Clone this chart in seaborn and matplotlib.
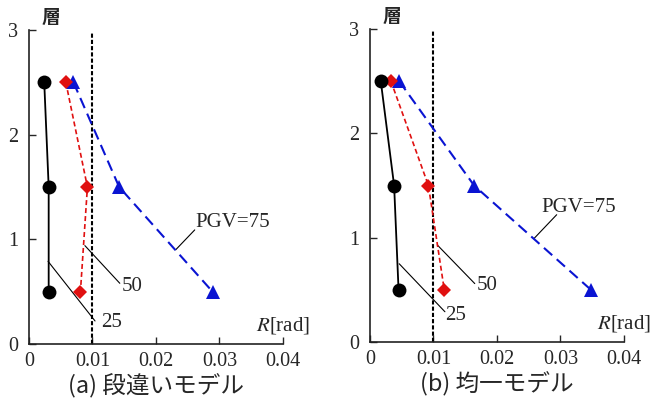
import numpy as np
import pandas as pd
import seaborn as sns
import matplotlib.pyplot as plt

# story height (middle of each floor)
floor = [2.5, 1.5, 0.5]

# (a) stepped model: drift angle R [rad]
a_pgv25 = [0.0024, 0.0031, 0.0031]
a_pgv50 = [0.0058, 0.0092, 0.0081]
a_pgv75 = [0.0070, 0.0142, 0.0289]

# (b) uniform model
b_pgv25 = [0.0017, 0.0038, 0.0045]
b_pgv50 = [0.0033, 0.0092, 0.0117]
b_pgv75 = [0.0046, 0.0164, 0.0348]

x_ticks = [0, 0.01, 0.02, 0.03, 0.04]
x_ticklabels = ['0', '0.01', '0.02', '0.03', '0.04']
y_ticks = [0, 1, 2, 3]
captions = ['(a) 段違いモデル', '(b) 均一モデル']

# leader annotations: label, point on line, end of leader, label position (left, middle)
a_notes = [('PGV=75', (0.0231, 0.90), (0.0261, 1.09), (0.0262, 1.16)),
           ('50', (0.0088, 0.94), (0.0143, 0.58), (0.0146, 0.55)),
           ('25', (0.0030, 0.79), (0.0104, 0.22), (0.0113, 0.21))]
b_notes = [('PGV=75', (0.0258, 0.99), (0.0294, 1.22), (0.0270, 1.29)),
           ('50', (0.0106, 0.93), (0.0165, 0.56), (0.0168, 0.54)),
           ('25', (0.0046, 0.75), (0.0118, 0.29), (0.0118, 0.25))]

sns.set_style("ticks")
serif = 'Liberation Serif'
plt.rcParams['font.family'] = [serif]
plt.rcParams['font.serif'] = [serif]
plt.rcParams['xtick.labelsize'] = 14.5
plt.rcParams['ytick.labelsize'] = 14.5
plt.rcParams['mathtext.fontset'] = 'stix'

fig = plt.figure(figsize=(6.56, 4.07), dpi=100)
ax_a = fig.add_axes([0.0442, 0.1548, 0.3872, 0.7715])
ax_b = fig.add_axes([0.564, 0.1597, 0.3872, 0.769])

panels = [(ax_a, a_pgv25, a_pgv50, a_pgv75, a_notes, captions[0]),
          (ax_b, b_pgv25, b_pgv50, b_pgv75, b_notes, captions[1])]

for ax, p25, p50, p75, notes, cap in panels:
    # limit line R = 1/100
    ax.plot([0.01, 0.01], [0, 2.98], color='black', ls=(0, (2, 1)), lw=1.5, zorder=1)

    df75 = pd.DataFrame({'R': p75, 'floor': floor})
    df50 = pd.DataFrame({'R': p50, 'floor': floor})
    df25 = pd.DataFrame({'R': p25, 'floor': floor})
    sns.lineplot(data=df75, x='R', y='floor', sort=False, estimator=None, ax=ax,
                 color='#0a14d2', lw=1.5, ls=(0, (5.3, 2.9)), marker='^', markersize=10.5,
                 markeredgewidth=0, zorder=3)
    sns.lineplot(data=df50, x='R', y='floor', sort=False, estimator=None, ax=ax,
                 color='#e01010', lw=1.2, ls=(0, (3, 1.8)), marker='D', markersize=7.5,
                 markeredgewidth=0, zorder=4)
    sns.lineplot(data=df25, x='R', y='floor', sort=False, estimator=None, ax=ax,
                 color='black', lw=1.3, marker='o', markersize=10,
                 markeredgewidth=0, zorder=5)

    for label, p, e, t in notes:
        ax.plot([p[0], e[0]], [p[1], e[1]], color='black', lw=0.8, zorder=2)
        ax.text(t[0], t[1], label, fontsize=15, ha='left', va='center',
                family=serif)

    ax.set_xlim(0, 0.04)
    ax.set_ylim(0, 3)
    ax.set_xticks(x_ticks, x_ticklabels)
    ax.set_yticks(y_ticks, [str(v) for v in y_ticks])
    ax.tick_params(direction='in', length=5, width=1, labelsize=14.5,
                   labelfontfamily=serif)
    ax.tick_params(axis='x', pad=6)
    ax.tick_params(axis='y', pad=8)
    ax.set_xlabel('')
    ax.set_ylabel('')
    for s in ['top', 'right']:
        ax.spines[s].set_visible(False)
    for s in ['left', 'bottom']:
        ax.spines[s].set_color('#222222')
        ax.spines[s].set_linewidth(1.2)

    ax.text(1.0, 0.025, r'$R$[rad]', transform=ax.transAxes, fontsize=15,
            ha='center', va='bottom', family=serif, clip_on=False)
    ax.text(0.05, 1.01, '層', transform=ax.transAxes, fontsize=13.5,
            ha='left', va='bottom', family='Noto Sans CJK JP', weight='bold')
    ax.text(0.5, -0.135, cap, transform=ax.transAxes, fontsize=17,
            ha='center', va='center', family=['Noto Sans CJK JP', 'DejaVu Sans'])

fig.savefig('out.png', dpi=100)
